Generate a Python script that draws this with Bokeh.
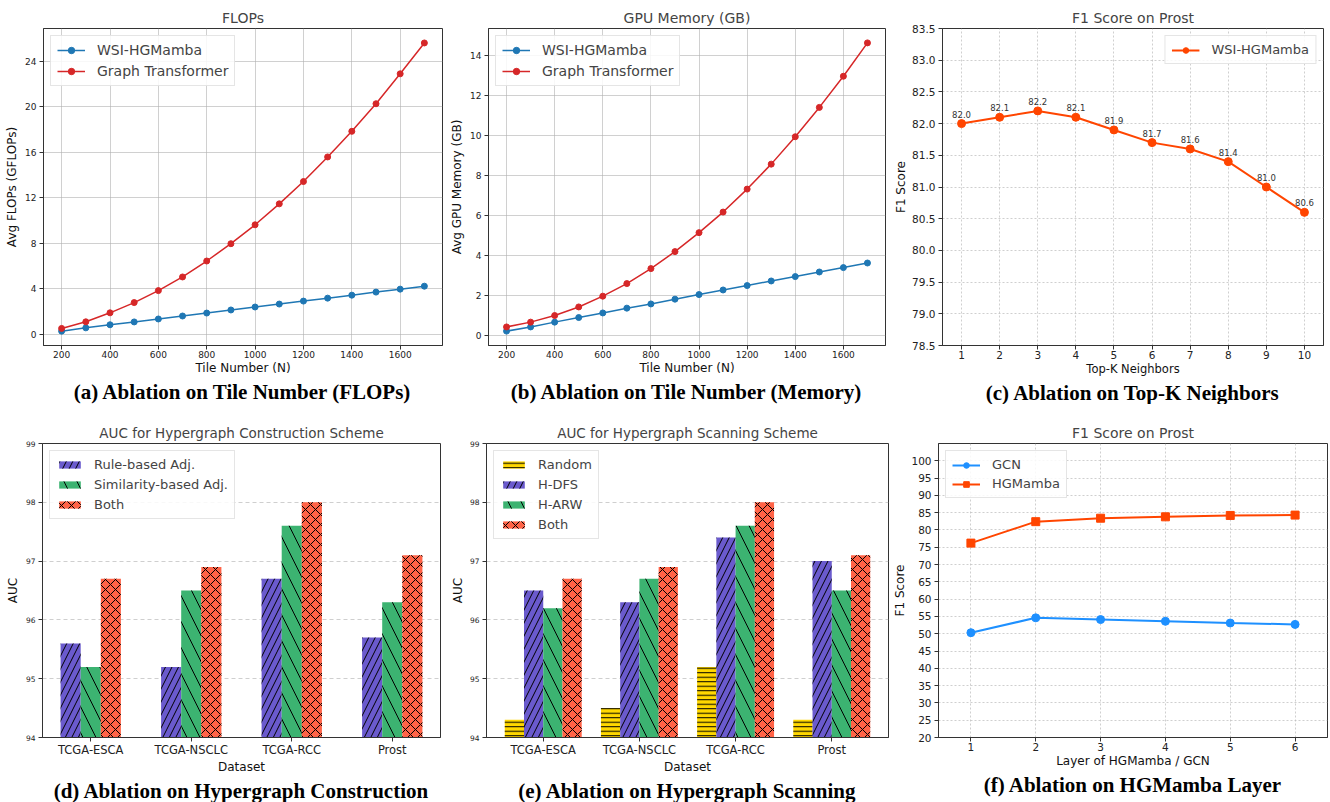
from bokeh.plotting import figure
from bokeh.layouts import column, row
from bokeh.models import FixedTicker, Title, Range1d, PrintfTickFormatter
from bokeh.core.properties import value
from bokeh.embed import file_html
from bokeh.resources import INLINE

# ---------------- data ----------------
TILES = [200, 300, 400, 500, 600, 700, 800, 900, 1000, 1100, 1200, 1300, 1400, 1500, 1600, 1700]
FLOPS_HGMAMBA = [0.29, 0.58, 0.85, 1.1, 1.36, 1.62, 1.88, 2.15, 2.41, 2.67, 2.93, 3.19, 3.45, 3.72, 3.98, 4.24]
FLOPS_GT = [0.53, 1.11, 1.9, 2.8, 3.85, 5.05, 6.45, 7.97, 9.63, 11.47, 13.43, 15.59, 17.84, 20.26, 22.89, 25.6]
MEM_HGMAMBA = [0.22, 0.43, 0.67, 0.9, 1.13, 1.37, 1.58, 1.82, 2.05, 2.28, 2.5, 2.73, 2.95, 3.18, 3.4, 3.63]
MEM_GT = [0.43, 0.67, 1.0, 1.43, 1.97, 2.6, 3.35, 4.2, 5.15, 6.18, 7.33, 8.58, 9.95, 11.42, 12.98, 14.65]

TOPK = [1, 2, 3, 4, 5, 6, 7, 8, 9, 10]
TOPK_F1 = [82.0, 82.1, 82.2, 82.1, 81.9, 81.7, 81.6, 81.4, 81.0, 80.6]

DATASETS = ["TCGA-ESCA", "TCGA-NSCLC", "TCGA-RCC", "Prost"]
CONS_RULE = [95.6, 95.2, 96.7, 95.7]
CONS_SIM = [95.2, 96.5, 97.6, 96.3]
CONS_BOTH = [96.7, 96.9, 98.0, 97.1]
SCAN_RANDOM = [94.3, 94.5, 95.2, 94.3]
SCAN_HDFS = [96.5, 96.3, 97.4, 97.0]
SCAN_HARW = [96.2, 96.7, 97.6, 96.5]
SCAN_BOTH = [96.7, 96.9, 98.0, 97.1]

LAYERS = [1, 2, 3, 4, 5, 6]
LAYER_GCN = [50.3, 54.6, 54.1, 53.6, 53.1, 52.7]
LAYER_HGMAMBA = [76.2, 82.4, 83.4, 83.8, 84.2, 84.3]

TICKS_TILE = [200, 400, 600, 800, 1000, 1200, 1400, 1600]
TICKS_FLOPS = [0, 4, 8, 12, 16, 20, 24]
TICKS_MEM = [0, 2, 4, 6, 8, 10, 12, 14]
TICKS_TOPK_F1 = [78.5, 79.0, 79.5, 80.0, 80.5, 81.0, 81.5, 82.0, 82.5, 83.0, 83.5]
TICKS_AUC = [94, 95, 96, 97, 98, 99]
TICKS_LAYER_F1 = [20, 25, 30, 35, 40, 45, 50, 55, 60, 65, 70, 75, 80, 85, 90, 95, 100]

# ---------------- style ----------------
FONT = "DejaVu Sans"
CAP_FONT = "Liberation Serif"
BLUE = "#1f77b4"
RED = "#d62728"
ORANGE = "#ff4500"
DBLUE = "#1e90ff"
PURPLE = "#6a5acd"
GREEN = "#3cb371"
TOMATO = "#ff6347"
GOLD = "#ffd700"
AXC = "#333333"


def make_fig(title, caption, width, height, xr, yr, borders, title_size="14px"):
    l, r, t, b = borders
    p = figure(width=width, height=height, x_range=xr, y_range=yr,
               output_backend="svg", toolbar_location=None,
               min_border_left=l, min_border_right=r, min_border_top=t, min_border_bottom=b)
    p.title.text = title
    p.title.text_font = FONT
    p.title.text_font_size = title_size
    p.title.text_font_style = "normal"
    p.title.align = "center"
    p.title.standoff = 6
    p.outline_line_color = AXC
    p.outline_line_alpha = 1
    p.background_fill_color = "white"
    p.border_fill_color = "white"
    cap = Title(text=caption, align="center", text_font=CAP_FONT, text_font_size="21px",
                text_font_style="bold", text_color="black", standoff=0, text_line_height=0.9)
    p.add_layout(cap, "below")
    return p


def style_axis(ax, tick_size, label_size="12px", label_standoff=1, title_standoff=0):
    ax.major_label_text_font = FONT
    ax.major_label_text_font_size = tick_size
    ax.major_label_text_color = "#222222"
    ax.axis_label_text_font = FONT
    ax.axis_label_text_font_size = label_size
    ax.axis_label_text_font_style = "normal"
    ax.axis_label_text_color = "#111111"
    ax.axis_line_color = AXC
    ax.major_tick_line_color = AXC
    ax.major_tick_out = 4
    ax.major_tick_in = 0
    ax.minor_tick_line_color = None
    ax.major_label_standoff = label_standoff
    ax.axis_label_standoff = title_standoff


def style_legend(p, loc, font_size, glyph_w, glyph_h, label_h, spacing, standoff):
    lg = p.legend[0]
    lg.location = loc
    lg.label_text_font = FONT
    lg.label_text_font_size = font_size
    lg.glyph_width = glyph_w
    lg.glyph_height = glyph_h
    lg.label_height = label_h
    lg.spacing = spacing
    lg.padding = 6
    lg.margin = 7
    lg.label_standoff = standoff
    lg.border_line_color = "#cccccc"
    lg.border_line_width = 1
    lg.background_fill_alpha = 0.85


def solid_grid(p):
    p.xgrid.grid_line_color = "#b0b0b0"
    p.ygrid.grid_line_color = "#b0b0b0"
    p.xgrid.grid_line_alpha = 0.6
    p.ygrid.grid_line_alpha = 0.6


def dotted_grid(p):
    for g in (p.xgrid, p.ygrid):
        g.grid_line_color = "#bbbbbb"
        g.grid_line_alpha = 0.7
        g.grid_line_dash = "2 2"


H1 = 404
H2 = 398
TOP1 = 27
TOP2 = 39
BOT = 40

# ---------------- (a) FLOPs ----------------
pa = make_fig("FLOPs", "(a) Ablation on Tile Number (FLOPs)", 447, H1,
              Range1d(125, 1775), Range1d(-0.97, 26.87), (43, 5, TOP1, BOT))
solid_grid(pa)
pa.line(TILES, FLOPS_HGMAMBA, color=BLUE, line_width=1.5, legend_label="WSI-HGMamba")
pa.scatter(TILES, FLOPS_HGMAMBA, color=BLUE, size=6, legend_label="WSI-HGMamba")
pa.line(TILES, FLOPS_GT, color=RED, line_width=1.5, legend_label="Graph Transformer")
pa.scatter(TILES, FLOPS_GT, color=RED, size=6, legend_label="Graph Transformer")
pa.xaxis.ticker = FixedTicker(ticks=TICKS_TILE)
pa.yaxis.ticker = FixedTicker(ticks=TICKS_FLOPS)
pa.xaxis.axis_label = "Tile Number (N)"
pa.yaxis.axis_label = "Avg FLOPs (GFLOPs)"
style_axis(pa.xaxis[0], "9px")
style_axis(pa.yaxis[0], "9px", label_standoff=3, title_standoff=3)
style_legend(pa, "top_left", "14px", 28, 16, 16, 5, 12)

# ---------------- (b) Memory ----------------
pb = make_fig("GPU Memory (GB)", "(b) Ablation on Tile Number (Memory)", 443, H1,
              Range1d(125, 1775), Range1d(-0.5, 15.37), (39, 5, TOP1, BOT))
solid_grid(pb)
pb.line(TILES, MEM_HGMAMBA, color=BLUE, line_width=1.5, legend_label="WSI-HGMamba")
pb.scatter(TILES, MEM_HGMAMBA, color=BLUE, size=6, legend_label="WSI-HGMamba")
pb.line(TILES, MEM_GT, color=RED, line_width=1.5, legend_label="Graph Transformer")
pb.scatter(TILES, MEM_GT, color=RED, size=6, legend_label="Graph Transformer")
pb.xaxis.ticker = FixedTicker(ticks=TICKS_TILE)
pb.yaxis.ticker = FixedTicker(ticks=TICKS_MEM)
pb.xaxis.axis_label = "Tile Number (N)"
pb.yaxis.axis_label = "Avg GPU Memory (GB)"
style_axis(pb.xaxis[0], "9px")
style_axis(pb.yaxis[0], "9px", label_standoff=3, title_standoff=3)
style_legend(pb, "top_left", "14px", 28, 16, 16, 5, 12)

# ---------------- (c) Top-K ----------------
pc = make_fig("F1 Score on Prost", "(c) Ablation on Top-K Neighbors", 440, H1,
              Range1d(0.5, 10.5), Range1d(78.5, 83.5), (52, 7, TOP1 + 1, BOT))
dotted_grid(pc)
pc.line(TOPK, TOPK_F1, color=ORANGE, line_width=2, legend_label="WSI-HGMamba")
pc.scatter(TOPK, TOPK_F1, color=ORANGE, size=8, legend_label="WSI-HGMamba")
pc.text(x=TOPK, y=TOPK_F1, text=[f"{v:.1f}" for v in TOPK_F1], text_align="center",
        text_baseline="bottom", y_offset=-6, text_font=value(FONT), text_font_size="8.5px",
        text_color="#333333")
pc.xaxis.ticker = FixedTicker(ticks=TOPK)
pc.yaxis.ticker = FixedTicker(ticks=TICKS_TOPK_F1)
pc.yaxis.formatter = PrintfTickFormatter(format="%.1f")
pc.xaxis.axis_label = "Top-K Neighbors"
pc.yaxis.axis_label = "F1 Score"
style_axis(pc.xaxis[0], "10.5px", "11.5px")
style_axis(pc.yaxis[0], "10.5px", label_standoff=3, title_standoff=1)
style_legend(pc, "top_right", "13px", 28, 14, 15, 4, 12)

# ---------------- (d) Construction ----------------
idx = list(range(len(DATASETS)))
AUC_FLOOR = TICKS_AUC[0]
bw = 0.2

pd_ = make_fig("AUC for Hypergraph Construction Scheme", "(d) Ablation on Hypergraph Construction",
               447, H2, Range1d(-0.48, 3.48), Range1d(94, 99), (42, 7, TOP2, BOT), title_size="13.5px")
pd_.xgrid.grid_line_color = None
pd_.ygrid.grid_line_color = "#bbbbbb"
pd_.ygrid.grid_line_alpha = 0.7
pd_.ygrid.grid_line_dash = "4 3"
pd_.vbar(x=[i - bw for i in idx], top=CONS_RULE, bottom=AUC_FLOOR, width=bw, fill_color=PURPLE,
         line_color=None, hatch_pattern="/", hatch_color="black", hatch_scale=13, hatch_weight=1,
         legend_label="Rule-based Adj.")
pd_.vbar(x=idx, top=CONS_SIM, bottom=AUC_FLOOR, width=bw, fill_color=GREEN,
         line_color=None, hatch_pattern="\\", hatch_color="black", hatch_scale=26, hatch_weight=1,
         legend_label="Similarity-based Adj.")
pd_.vbar(x=[i + bw for i in idx], top=CONS_BOTH, bottom=AUC_FLOOR, width=bw, fill_color=TOMATO,
         line_color=None, hatch_pattern="x", hatch_color="black", hatch_scale=10, hatch_weight=1,
         legend_label="Both")
pd_.xaxis.ticker = FixedTicker(ticks=idx)
pd_.xaxis.major_label_overrides = {i: d for i, d in zip(idx, DATASETS)}
pd_.yaxis.ticker = FixedTicker(ticks=TICKS_AUC)
pd_.xaxis.axis_label = "Dataset"
pd_.yaxis.axis_label = "AUC"
style_axis(pd_.xaxis[0], "11.5px", "12px")
style_axis(pd_.yaxis[0], "7.5px", "12px", label_standoff=3, title_standoff=3)
style_legend(pd_, "top_left", "13px", 27, 9, 15, 5, 11)

# ---------------- (e) Scanning ----------------
pe = make_fig("AUC for Hypergraph Scanning Scheme", "(e) Ablation on Hypergraph Scanning",
              443, H2, Range1d(-0.59, 3.59), Range1d(94, 99), (37, 2, TOP2, BOT), title_size="13.5px")
pe.xgrid.grid_line_color = None
pe.ygrid.grid_line_color = "#bbbbbb"
pe.ygrid.grid_line_alpha = 0.7
pe.ygrid.grid_line_dash = "4 3"
pe.vbar(x=[i - 1.5 * bw for i in idx], top=SCAN_RANDOM, bottom=AUC_FLOOR, width=bw, fill_color=GOLD,
        line_color=None, hatch_pattern="-", hatch_color="black", hatch_scale=4.5, hatch_weight=1,
        legend_label="Random")
pe.vbar(x=[i - 0.5 * bw for i in idx], top=SCAN_HDFS, bottom=AUC_FLOOR, width=bw, fill_color=PURPLE,
        line_color=None, hatch_pattern="/", hatch_color="black", hatch_scale=13, hatch_weight=1,
        legend_label="H-DFS")
pe.vbar(x=[i + 0.5 * bw for i in idx], top=SCAN_HARW, bottom=AUC_FLOOR, width=bw, fill_color=GREEN,
        line_color=None, hatch_pattern="\\", hatch_color="black", hatch_scale=26, hatch_weight=1,
        legend_label="H-ARW")
pe.vbar(x=[i + 1.5 * bw for i in idx], top=SCAN_BOTH, bottom=AUC_FLOOR, width=bw, fill_color=TOMATO,
        line_color=None, hatch_pattern="x", hatch_color="black", hatch_scale=10, hatch_weight=1,
        legend_label="Both")
pe.xaxis.ticker = FixedTicker(ticks=idx)
pe.xaxis.major_label_overrides = {i: d for i, d in zip(idx, DATASETS)}
pe.yaxis.ticker = FixedTicker(ticks=TICKS_AUC)
pe.xaxis.axis_label = "Dataset"
pe.yaxis.axis_label = "AUC"
style_axis(pe.xaxis[0], "11.5px", "12px")
style_axis(pe.yaxis[0], "7.5px", "12px", label_standoff=3, title_standoff=2)
style_legend(pe, "top_left", "13px", 27, 9, 15, 5, 11)

# ---------------- (f) Layers ----------------
pf = make_fig("F1 Score on Prost", "(f) Ablation on HGMamba Layer", 440, H2,
              Range1d(0.5, 6.5), Range1d(20, 105), (48, 3, TOP2, BOT))
dotted_grid(pf)
pf.line(LAYERS, LAYER_GCN, color=DBLUE, line_width=2, legend_label="GCN")
pf.scatter(LAYERS, LAYER_GCN, color=DBLUE, size=8, legend_label="GCN")
pf.line(LAYERS, LAYER_HGMAMBA, color=ORANGE, line_width=2, legend_label="HGMamba")
pf.scatter(LAYERS, LAYER_HGMAMBA, color=ORANGE, size=8, marker="square", legend_label="HGMamba")
pf.xaxis.ticker = FixedTicker(ticks=LAYERS)
pf.yaxis.ticker = FixedTicker(ticks=TICKS_LAYER_F1)
pf.xaxis.axis_label = "Layer of HGMamba / GCN"
pf.yaxis.axis_label = "F1 Score"
style_axis(pf.xaxis[0], "10.5px", "12px")
style_axis(pf.yaxis[0], "10.5px", "12px", label_standoff=3, title_standoff=1)
style_legend(pf, "top_left", "13px", 28, 14, 15, 4, 12)

layout = column(row(pa, pb, pc), row(pd_, pe, pf))
open("out.html", "w").write(file_html(layout, INLINE))
